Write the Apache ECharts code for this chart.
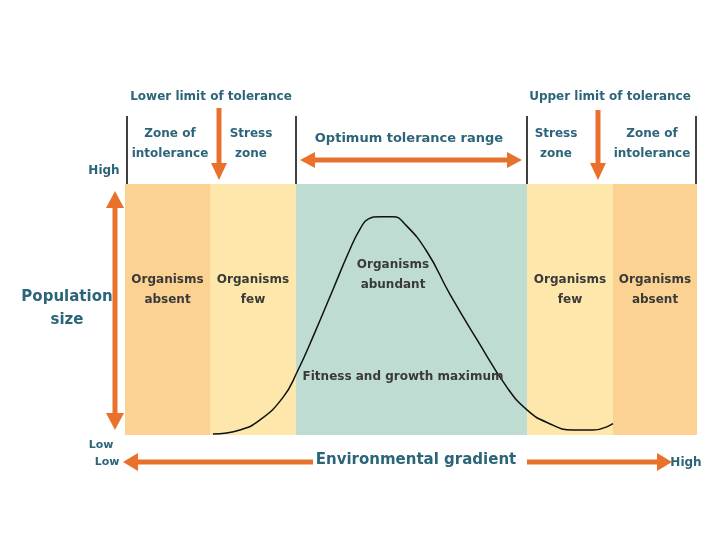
<!DOCTYPE html>
<html lang="en">
<head>
    <meta charset="UTF-8">
    <title>Tolerance range</title>
    <script src="https://cdn.jsdelivr.net/npm/echarts@6/dist/echarts.min.js"></script>
    <style type="text/css">
        body{ margin:0; background:#fff; }
    </style>
</head>
<body>
<div id="main" style="width: 720px;height:540px;"></div>
<script type="text/javascript">
    // zone boundaries along the environmental gradient (axis units)
    var zoneEdges = [0, 85, 171, 402, 488, 572];
    var zoneColors = ['#fbd292', '#fde7aa', '#bedcd2', '#fde7aa', '#fbd292'];
    var zoneLabels = ['Organisms\nabsent', 'Organisms\nfew', 'Organisms\nabundant', 'Organisms\nfew', 'Organisms\nabsent'];
    // population curve
    var gradientX = [88, 115, 135, 158, 172, 190, 208, 225, 235, 243, 255, 268, 280, 302, 325, 352, 382, 402, 422, 448, 468, 488];
    var population = [0.4, 2, 6, 15, 25, 41, 58, 74, 82, 86, 87, 87, 84, 73, 56, 38, 19, 10, 5, 2, 2, 4.5];

    var myChart = echarts.init(document.getElementById('main'));

    var curve = [];
    for (var i = 0; i < gradientX.length; i++) {
        curve.push([gradientX[i], population[i]]);
    }
    var bands = [];
    for (var j = 0; j < zoneColors.length; j++) {
        bands.push([
            {xAxis: zoneEdges[j], itemStyle: {color: zoneColors[j]}},
            {xAxis: zoneEdges[j + 1]}
        ]);
    }

    var ORANGE = '#e8722c';
    var TEAL = '#2c6579';
    var FONT = 'DejaVu Sans';

    function txt(x, y, s, size, color) {
        return {
            type: 'text', x: x, y: y, z: 10,
            style: {
                text: s, fontSize: size, fontWeight: 'bold', fontFamily: FONT,
                fill: color, align: 'center', verticalAlign: 'middle', lineHeight: size + 8
            }
        };
    }
    function vline(x, y1, y2) {
        return {type: 'line', z: 5, shape: {x1: x, y1: y1, x2: x, y2: y2}, style: {stroke: '#000', lineWidth: 1.5}};
    }
    function shaft(x1, y1, x2, y2) {
        return {type: 'line', z: 5, shape: {x1: x1, y1: y1, x2: x2, y2: y2}, style: {stroke: ORANGE, lineWidth: 5}};
    }
    function head(pts) {
        return {type: 'polygon', z: 5, shape: {points: pts}, style: {fill: ORANGE}};
    }

    var graphics = [
        vline(127, 116, 184), vline(296, 116, 184), vline(527, 116, 184), vline(696, 116, 184),
        txt(211, 97, 'Lower limit of tolerance', 12, TEAL),
        txt(610, 97, 'Upper limit of tolerance', 12, TEAL),
        txt(170, 144, 'Zone of\nintolerance', 12, TEAL),
        txt(251, 144, 'Stress\nzone', 12, TEAL),
        txt(556, 144, 'Stress\nzone', 12, TEAL),
        txt(652, 144, 'Zone of\nintolerance', 12, TEAL),
        txt(409, 139, 'Optimum tolerance range', 13, TEAL),
        txt(104, 171, 'High', 12, TEAL),
        txt(67, 309, 'Population\nsize', 15, TEAL),
        txt(101, 445, 'Low', 11, TEAL),
        txt(107, 462, 'Low', 11, TEAL),
        txt(416, 460, 'Environmental gradient', 15, TEAL),
        txt(686, 463, 'High', 12, TEAL),
        txt(403, 377, 'Fitness and growth maximum', 12, '#3a3a3a'),
        // arrows
        shaft(219, 108, 219, 165), head([[211, 163], [227, 163], [219, 180]]),
        shaft(598, 110, 598, 165), head([[590, 163], [606, 163], [598, 180]]),
        shaft(312, 160, 510, 160), head([[300, 160], [315, 152], [315, 168]]), head([[522, 160], [507, 152], [507, 168]]),
        shaft(115, 205, 115, 416), head([[115, 191], [106, 208], [124, 208]]), head([[115, 430], [106, 413], [124, 413]]),
        shaft(135, 462, 313, 462), head([[123, 462], [138, 453], [138, 471]]),
        shaft(527, 462, 660, 462), head([[672, 462], [657, 453], [657, 471]])
    ];
    for (var k = 0; k < zoneLabels.length; k++) {
        var cx = 125 + (zoneEdges[k] + zoneEdges[k + 1]) / 2;
        var cy = k === 2 ? 275 : 290;
        if (k === 2) cx = 393;
        graphics.push(txt(cx, cy, zoneLabels[k], 12, '#3a3a3a'));
    }

    var option = {
        animation: false,
        grid: {left: 125, right: 23, top: 184, bottom: 105},
        xAxis: {type: 'value', min: 0, max: 572, show: false},
        yAxis: {type: 'value', min: 0, max: 100, show: false},
        series: [{
            type: 'line',
            data: curve,
            smooth: 0.5,
            symbol: 'none',
            lineStyle: {color: '#111', width: 1.5},
            z: 3,
            markArea: {silent: true, data: bands}
        }],
        graphic: graphics
    };
    myChart.setOption(option);
</script>
</body>
</html>
